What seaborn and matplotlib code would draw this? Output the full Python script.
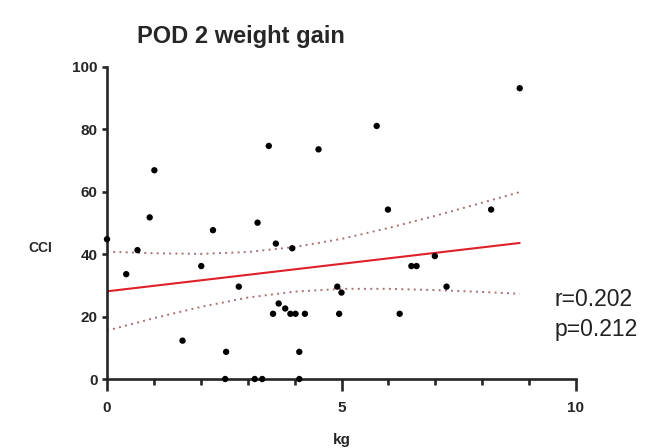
import numpy as np
import pandas as pd
import matplotlib
matplotlib.use('Agg')
import matplotlib.pyplot as plt
from matplotlib.ticker import MultipleLocator
import seaborn as sns

# Данные: прибавка веса (кг) и CCI
kg = [0.0, 0.41, 0.65, 0.91, 1.01, 1.61, 2.01, 2.26, 2.52, 2.54,
      2.81, 3.15, 3.21, 3.31, 3.45, 3.54, 3.60, 3.66, 3.80, 3.91,
      3.95, 4.02, 4.10, 4.10, 4.22, 4.51, 4.91, 4.95, 5.00, 5.75,
      5.99, 6.24, 6.49, 6.60, 6.99, 7.24, 8.19, 8.80]
cci = [44.8, 33.6, 41.3, 51.8, 66.9, 12.3, 36.2, 47.7, 0.0, 8.7,
       29.6, 0.0, 50.1, 0.0, 74.7, 20.9, 43.4, 24.2, 22.6, 20.9,
       41.9, 20.9, 8.7, 0.0, 20.9, 73.6, 29.6, 20.9, 27.7, 81.1,
       54.3, 20.9, 36.2, 36.2, 39.4, 29.6, 54.3, 93.2]

# Линия регрессии и 95% доверительные границы (значения с графика)
fit_x = [0.0, 8.8]
fit_y = [28.1, 43.6]
band_x = [0, 1, 2, 3, 4, 5, 6, 7, 8, 8.8]
band_hi = [40.8, 40.3, 40.1, 40.7, 42.3, 44.9, 48.4, 52.3, 56.5, 59.9]
band_lo = [15.5, 19.5, 23.1, 26.1, 28.0, 28.9, 28.9, 28.5, 27.9, 27.3]

x_ticks = [0, 5, 10]
y_ticks = [0, 20, 40, 60, 80, 100]
stats_text = ['r=0.202', 'p=0.212']

df = pd.DataFrame({'kg': kg, 'CCI': cci})
fit = pd.DataFrame({'x': fit_x, 'y': fit_y})
band = pd.DataFrame({'x': band_x, 'hi': band_hi, 'lo': band_lo})

sns.set_style('ticks')
plt.rcParams['font.family'] = ['Liberation Sans', 'DejaVu Sans']

fig = plt.figure(figsize=(6.46, 4.48), dpi=100)
ax = fig.add_axes([107 / 646, 69 / 448, 469 / 646, 312 / 448])

sns.lineplot(data=band, x='x', y='lo', color='#a87070', lw=1.4, linestyle=(0, (1, 2.2)), ax=ax)
sns.lineplot(data=band, x='x', y='hi', color='#a87070', lw=1.4, linestyle=(0, (1, 2.2)), ax=ax)
sns.lineplot(data=fit, x='x', y='y', color='#e02028', lw=1.5, ax=ax)
sns.scatterplot(data=df, x='kg', y='CCI', color='black', s=21, edgecolor='none',
                clip_on=False, zorder=5, ax=ax)

ax.set_xlim(0, 10)
ax.set_ylim(0, 100)
ax.set_xticks(x_ticks)
ax.set_yticks(y_ticks)
ax.xaxis.set_minor_locator(MultipleLocator(1))
sns.despine(ax=ax)
for sp in ['left', 'bottom']:
    ax.spines[sp].set_linewidth(1.9)
ax.tick_params(axis='x', which='major', length=8.6, width=1.9, pad=7, labelsize=11)
ax.tick_params(axis='x', which='minor', length=4.3, width=1.9)
ax.tick_params(axis='y', which='major', length=3.6, width=1.9, pad=3, labelsize=11)
for lbl in ax.get_xticklabels() + ax.get_yticklabels():
    lbl.set_fontweight('bold')
ax.set_xlabel('')
ax.set_ylabel('')

fig.text(137 / 646, 1 - 43 / 448, 'POD 2 weight gain', fontsize=17, fontweight='bold',
         va='baseline', ha='left')
fig.text(341.5 / 646, 4 / 448, 'kg', fontsize=11, fontweight='bold', ha='center', va='baseline')
fig.text(40 / 646, 1 - 248 / 448, 'CCI', fontsize=10, fontweight='bold', ha='center', va='center')
fig.text(555 / 646, 1 - 299 / 448, stats_text[0], fontsize=16.5, color='#222222', va='center')
fig.text(555 / 646, 1 - 329 / 448, stats_text[1], fontsize=16.5, color='#222222', va='center')

fig.savefig('out.png', dpi=100)
